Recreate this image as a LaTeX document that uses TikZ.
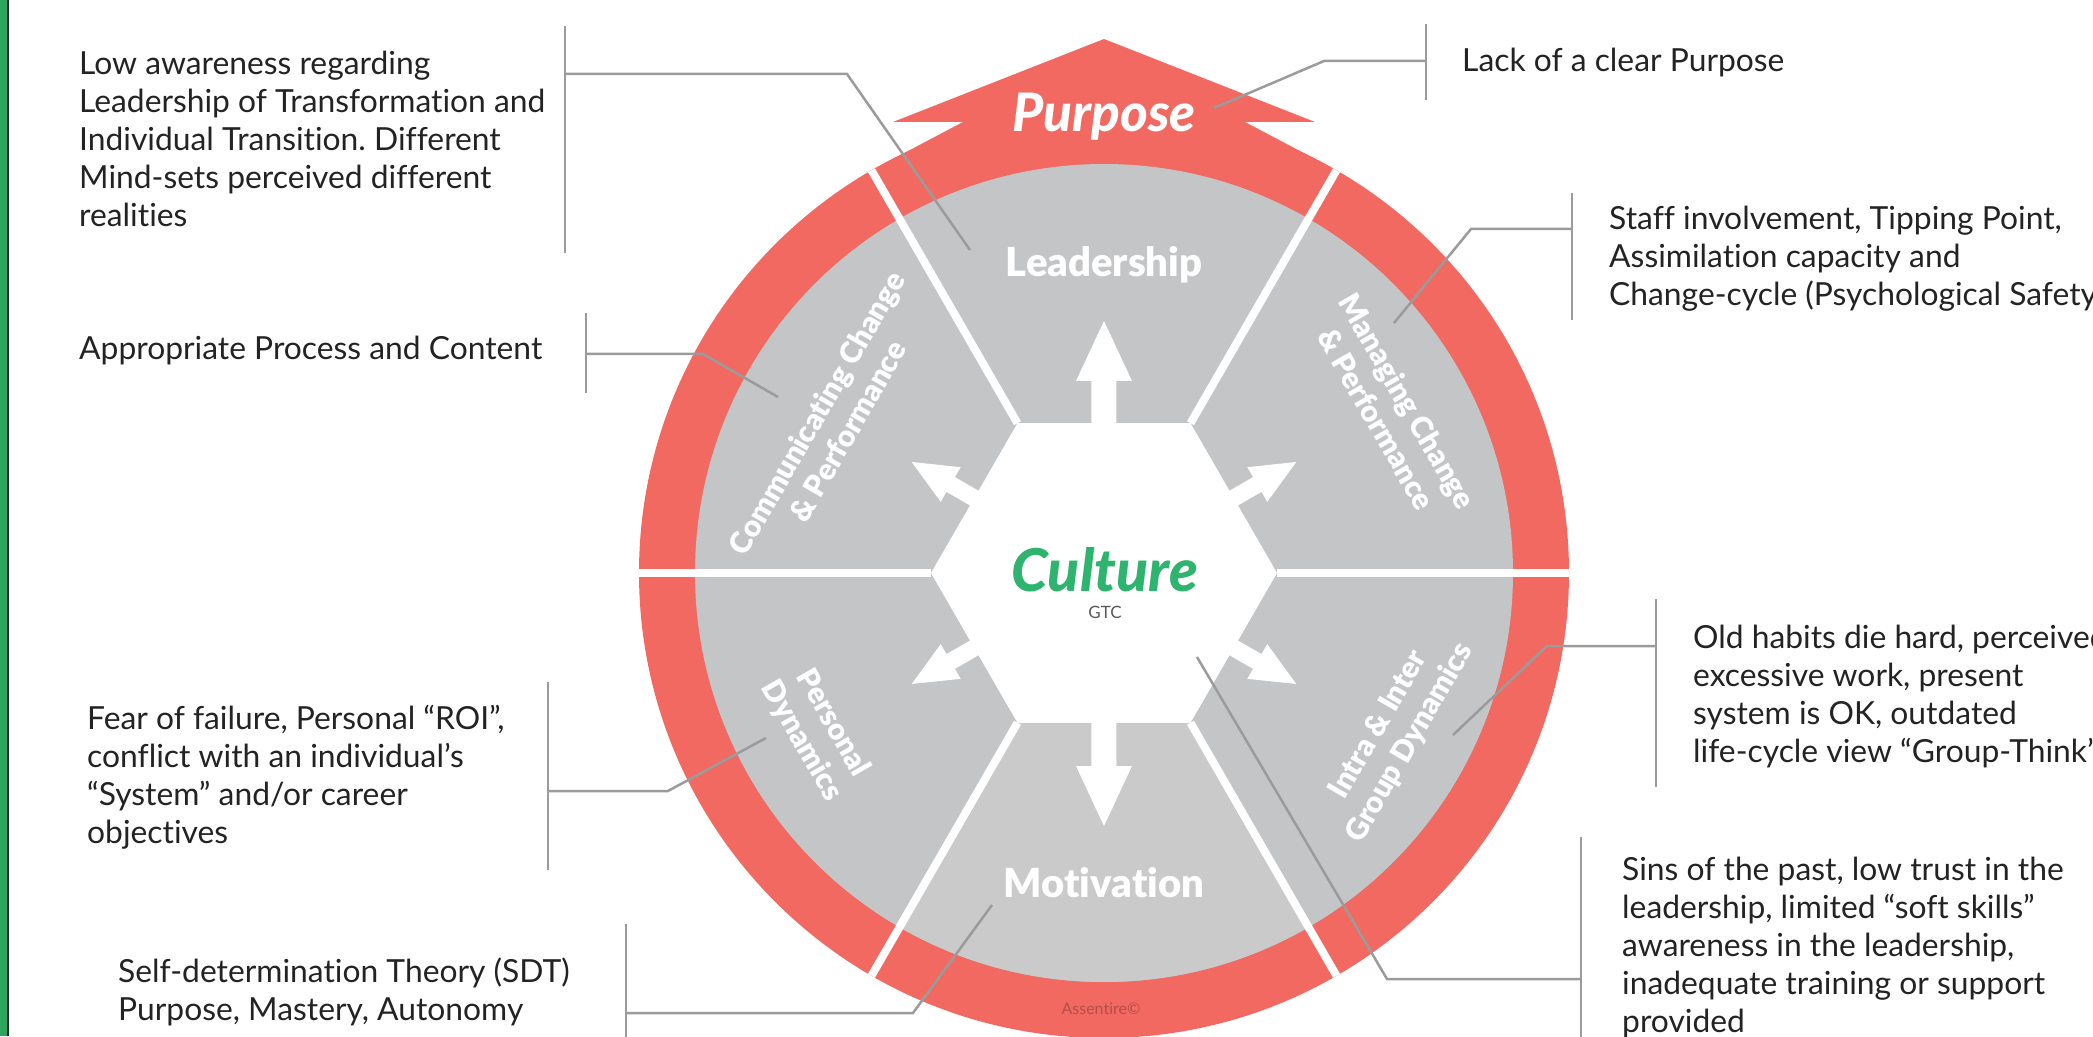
\documentclass[tikz,border=0pt]{standalone}
\usepackage{fontspec}
\setmainfont{Lato}[Ligatures=NoCommon]
\newfontfamily\heavyfont{Lato}[UprightFont=* Black, ItalicFont=* Black Italic, Ligatures=NoCommon]
\definecolor{coral}{RGB}{241,105,96}
\definecolor{segment}{RGB}{196,197,199}
\definecolor{segmentlight}{RGB}{202,202,202}
\definecolor{culturegreen}{RGB}{46,180,110}
\definecolor{bargreen}{RGB}{46,165,94}
\definecolor{lead}{RGB}{155,155,155}
\definecolor{ink}{RGB}{35,35,35}
\tikzset{
  note/.style={font=\frenchspacing\fontsize{31.8}{38}\selectfont, text=ink, align=left,
    inner sep=0pt, anchor=base west},
  callout/.style={draw=lead, line width=2.5pt},
  divider/.style={draw=white, line width=8pt},
  seglabel/.style={font=\heavyfont\fontsize{30}{36}\selectfont, text=white,
    align=center, inner sep=0pt},
  biglabel/.style={font=\heavyfont\fontsize{40}{44}\selectfont, text=white,
    inner sep=0pt, anchor=base}
}
\begin{document}
\begin{tikzpicture}[x=1pt,y=1pt]
  \path[use as bounding box, clip] (-1104,-463) rectangle (989,573);
  \fill[bargreen] (-1104,-463) rectangle (-1097,573);
  \draw[black!85, line width=2pt] (-1096,-463) -- (-1096,573);

  \fill[coral] (0,0) circle (465);
  \fill[coral] (0,0) -- (120:465) -- (-141,451) -- (-211,451) -- (0,534)
    -- (211,451) -- (141,451) -- (60:465) -- cycle;
  \fill[segment] (0,0) circle (409);
  \fill[segmentlight] (0,0) -- (240:409) arc (240:300:409) -- cycle;
  \fill[white] (0:173) \foreach \a in {60,120,...,300} { -- (\a:173) } -- cycle;
  \foreach \a in {0,60,...,300}
    \draw[divider] (\a:173) -- (\a:465);
  \foreach \a/\w/\h/\b/\t in {90/12.5/28/192/252, 270/12.5/28/193/253,
      30/8.5/20/177/222, 150/8.5/20/177/222, 210/8.5/20/177/222, 330/8.5/20/177/222}
    \fill[white, rotate=\a] (140,-\w) -- (\b,-\w) -- (\b,-\h) -- (\t,0)
      -- (\b,\h) -- (\b,\w) -- (140,\w) -- cycle;

  \node[font=\heavyfont\itshape\fontsize{53}{58}\selectfont, text=white,
    inner sep=0pt, anchor=base] (purpose) at (0,441) {Purpose};
  \node[font=\heavyfont\itshape\fontsize{59}{64}\selectfont, text=culturegreen,
    inner sep=0pt, anchor=base] (culture) at (1,-19) {Culture};
  \node[font=\fontsize{17}{20}\selectfont, text=black!65, inner sep=0pt,
    anchor=base] (gtc) at (1,-45) {GTC};
  \node[biglabel] (leadership) at (0,296) {Leadership};
  \node[biglabel] (motivation) at (0,-324) {Motivation};
  \node[seglabel, rotate=60] (comm) at (151:311) {Communicating Change\\\& Performance};
  \node[seglabel, rotate=-60] (manage) at (29.5:331) {Managing Change\\\& Performance};
  \node[seglabel, rotate=-60] (personal) at (209:328) {Personal\\Dynamics};
  \node[seglabel, rotate=60] (intra) at (331:332) {Intra \& Inter\\Group Dynamics};
  \node[font=\fontsize{16}{18}\selectfont, text=coral!75!black, inner sep=0pt,
    anchor=base] (assentire) at (-3,-441) {Assentire©};

  \node[note] (nlow) at (-1025,346) {Low awareness regarding\\Leadership of Transformation and\\Individual Transition. Different\\Mind-sets perceived different\\realities};
  \node[note] (nproc) at (-1025,213) {Appropriate Process and Content};
  \node[note] (nfear) at (-1017,-270) {Fear of failure, Personal “ROI”,\\conflict with an individual’s\\“System” and/or career\\objectives};
  \node[note] (nsdt) at (-986,-447) {Self-determination Theory (SDT)\\Purpose, Mastery, Autonomy};
  \node[note] (npurp) at (358,501) {Lack of a clear Purpose};
  \node[note] (nstaff) at (505,267) {Staff involvement, Tipping Point,\\Assimilation capacity and\\Change-cycle (Psychological Safety)};
  \node[note] (nhabit) at (589,-189) {Old habits die hard, perceived\\excessive work, present\\system is OK, outdated\\life-cycle view “Group-Think”};
  \node[note] (nsins) at (518,-459) {Sins of the past, low trust in the\\leadership, limited “soft skills”\\awareness in the leadership,\\inadequate training or support\\provided};

  \coordinate (lowtop) at (-539,547);  \coordinate (lowbot) at (-539,320);
  \coordinate (lowmid) at (-539,499);  \coordinate (lowelb) at (-257,499);
  \coordinate (lowtip) at (-134,323);
  \coordinate (proctop) at (-518,260); \coordinate (procbot) at (-518,180);
  \coordinate (procmid) at (-518,219); \coordinate (procelb) at (-401,219);
  \coordinate (proctip) at (-326,176);
  \coordinate (feartop) at (-556,-109); \coordinate (fearbot) at (-556,-297);
  \coordinate (fearmid) at (-556,-218); \coordinate (fearelb) at (-436,-218);
  \coordinate (feartip) at (-338,-165);
  \coordinate (sdttop) at (-478,-351); \coordinate (sdtbot) at (-478,-470);
  \coordinate (sdtmid) at (-478,-440); \coordinate (sdtelb) at (-191,-440);
  \coordinate (sdttip) at (-112,-332);
  \coordinate (purptop) at (322,549); \coordinate (purpbot) at (322,473);
  \coordinate (purpmid) at (322,512); \coordinate (purpelb) at (220,512);
  \coordinate (purptip) at (110,465);
  \coordinate (stafftop) at (468,380); \coordinate (staffbot) at (468,253);
  \coordinate (staffmid) at (468,344); \coordinate (staffelb) at (367,344);
  \coordinate (stafftip) at (290,250);
  \coordinate (habittop) at (552,-26); \coordinate (habitbot) at (552,-214);
  \coordinate (habitmid) at (552,-73); \coordinate (habitelb) at (443,-73);
  \coordinate (habittip) at (349,-162);
  \coordinate (sinstop) at (477,-264); \coordinate (sinsbot) at (477,-470);
  \coordinate (sinsmid) at (477,-406); \coordinate (sinselb) at (283,-406);
  \coordinate (sinstip) at (93,-84);

  \foreach \n in {low,proc,fear,sdt,purp,staff,habit,sins} {
    \draw[callout] (\n top) -- (\n bot);
    \draw[callout] (\n mid) -- (\n elb) -- (\n tip);
  }
\end{tikzpicture}
\end{document}
